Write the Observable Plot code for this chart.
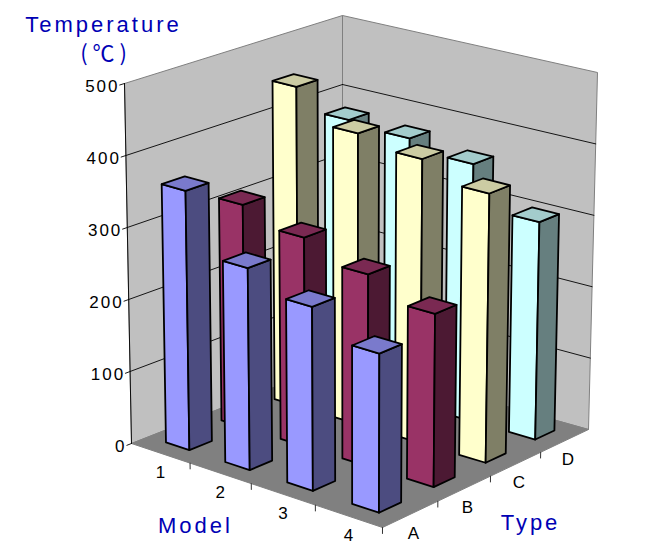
<!DOCTYPE html>
<html>
<head>
<meta charset="utf-8">
<script src="https://cdn.jsdelivr.net/npm/d3@7"></script>
<script src="https://cdn.jsdelivr.net/npm/@observablehq/plot@0.6"></script>
<style>
html,body{margin:0;padding:0;background:#fff}
svg{display:block}
.ztick text{letter-spacing:2px}
.axis-title text{letter-spacing:3px}
</style>
</head>
<body>
<div id="chart"></div>
<script>
// Data
const models = ["1","2","3","4"];
const types = ["A","B","C","D"];
const zTicks = [0,100,200,300,400,500];
const seriesA = [359,277,250,214];
const seriesB = [312,290,264,236];
const seriesC = [452,408,395,371];
const seriesD = [380,375,361,303];
const series = [seriesA,seriesB,seriesC,seriesD];
const front = ["#9999ff","#993366","#ffffcc","#ccffff"];
const side  = ["#4c4c80","#4c1933","#7f7f66","#667f7f"];
const top_  = ["#7a7acc","#7a2952","#cccca3","#a3cccc"];

// Oblique projection of the chart's 3-D box onto the picture plane
const W = 645, H = 552, zMax = 500;
const floorQuad = [[131,443],[382,527],[588,429],[342,360]];
const ceilQuad  = [[124,83],[383,153],[597,72],[342,15]];
function homography(q){
  const [[x0,y0],[x1,y1],[x2,y2],[x3,y3]] = q;
  const dx1=x1-x2, dx2=x3-x2, sx=x0-x1+x2-x3;
  const dy1=y1-y2, dy2=y3-y2, sy=y0-y1+y2-y3;
  const den=dx1*dy2-dx2*dy1;
  const g=(sx*dy2-dx2*sy)/den, h=(dx1*sy-sx*dy1)/den;
  const a=x1-x0+g*x1, b=x3-x0+h*x3, d=y1-y0+g*y1, e=y3-y0+h*y3;
  return (u,v)=>{const w=g*u+h*v+1;return [(a*u+b*v+x0)/w,(d*u+e*v+y0)/w];};
}
const hFloor=homography(floorQuad), hCeil=homography(ceilQuad);
function project(u,v,z){
  const p=hFloor(u,v), q=hCeil(u,v), t=z/zMax;
  return [p[0]+(q[0]-p[0])*t, p[1]+(q[1]-p[1])*t];
}

// Build polygons and lines from the data
const polys=[];
function addPoly(id,pts,fill){
  [...pts,pts[0]].forEach(p=>{const [x,y]=project(...p);polys.push({id,x,y,fill});});
}
function addLine(arr,id,a,b){
  [a,b].forEach(p=>{const [x,y]=project(...p);arr.push({id,x,y});});
}
addPoly("wl",[[0,0,0],[0,1,0],[0,1,zMax],[0,0,zMax]],"#c0c0c0");
addPoly("wb",[[0,1,0],[1,1,0],[1,1,zMax],[0,1,zMax]],"#c0c0c0");
addPoly("fl",[[0,0,0],[1,0,0],[1,1,0],[0,1,0]],"#808080");

const grid=[];
zTicks.filter(z=>z>0&&z<zMax).forEach(z=>{
  addLine(grid,"gl"+z,[0,-0.02,z],[0,1,z]);
  addLine(grid,"gb"+z,[0,1,z],[1,1,z]);
});
addLine(grid,"g500",[0,-0.02,zMax],[0,0,zMax]);
addLine(grid,"g0",[0,-0.02,0],[0,0,0]);
addLine(grid,"lefte",[0,0,0],[0,0,zMax]);

const ticks=[];
[0.25,0.5,0.75,1].forEach((u,i)=>addLine(ticks,"m"+i,[u,0,0],[u,0,-8]));
[0.25,0.5,0.75].forEach((v,i)=>addLine(ticks,"t"+i,[1,v,0],[1,v,-8]));

const f=0.40, n=4;
const bars=[];
function addPolyBar(id,pts,fill){
  [...pts,pts[0]].forEach(p=>{const [x,y]=project(...p);bars.push({id,x,y,fill});});
}
models.forEach((m,i)=>{
  for(let j=types.length-1;j>=0;j--){
    const u0=(i+.5-f/2)/n,u1=(i+.5+f/2)/n,v0=(j+.5-f/2)/n,v1=(j+.5+f/2)/n,z=series[j][i];
    addPolyBar(`${m}${types[j]}f`,[[u0,v0,0],[u1,v0,0],[u1,v0,z],[u0,v0,z]],front[j]);
    addPolyBar(`${m}${types[j]}s`,[[u1,v0,0],[u1,v1,0],[u1,v1,z],[u1,v0,z]],side[j]);
    addPolyBar(`${m}${types[j]}t`,[[u0,v0,z],[u1,v0,z],[u1,v1,z],[u0,v1,z]],top_[j]);
  }
});

const zLabels=zTicks.map(z=>{const [x,y]=project(0,0,z);return {x:x-5,y:y+3,t:String(z)};});
const mLabels=models.map((m,i)=>{const [x,y]=project((i+.5)/n,0,0);return {x,y:y+19,t:m};});
const tLabels=types.map((t,j)=>{const [x,y]=project(1,(j+.5)/n,0);return {x:x+3,y:y+19,t};});
const titles=[
  {x:103,y:24,t:"Temperature"},
  {x:195,y:525,t:"Model"},
  {x:530,y:522,t:"Type"}
];
const unit=[{x:103,y:53,t:"( ℃ )"}];

const blue="#0000b4";
const chart=Plot.plot({
  width:W,height:H,margin:0,
  x:{domain:[0,W],range:[0,W],axis:null},
  y:{domain:[0,H],range:[0,H],axis:null},
  marks:[
    Plot.line(polys,{x:"x",y:"y",z:"id",fill:"fill",stroke:"#808080",strokeWidth:1}),
    Plot.line(grid,{x:"x",y:"y",z:"id",stroke:"#000",strokeWidth:0.9}),
    Plot.line(ticks,{x:"x",y:"y",z:"id",stroke:"#333",strokeWidth:1}),
    Plot.line(bars,{x:"x",y:"y",z:"id",fill:"fill",stroke:"#000",strokeWidth:1.8,strokeLinejoin:"round"}),
    Plot.text(zLabels,{x:"x",y:"y",text:"t",textAnchor:"end",fontSize:17,fill:"#000",fontFamily:"Liberation Sans",className:"ztick"}),
    Plot.text(mLabels,{x:"x",y:"y",text:"t",fontSize:17,fill:"#000",fontFamily:"Liberation Sans"}),
    Plot.text(tLabels,{x:"x",y:"y",text:"t",fontSize:17,fill:"#000",fontFamily:"Liberation Sans"}),
    Plot.text(titles,{x:"x",y:"y",text:"t",fontSize:22,fill:blue,fontFamily:"Liberation Sans",className:"axis-title"}),
    Plot.text(unit,{x:"x",y:"y",text:"t",fontSize:22,fill:blue,fontFamily:"Noto Sans CJK KR"})
  ]
});
document.getElementById("chart").appendChild(chart);
</script>
</body>
</html>
